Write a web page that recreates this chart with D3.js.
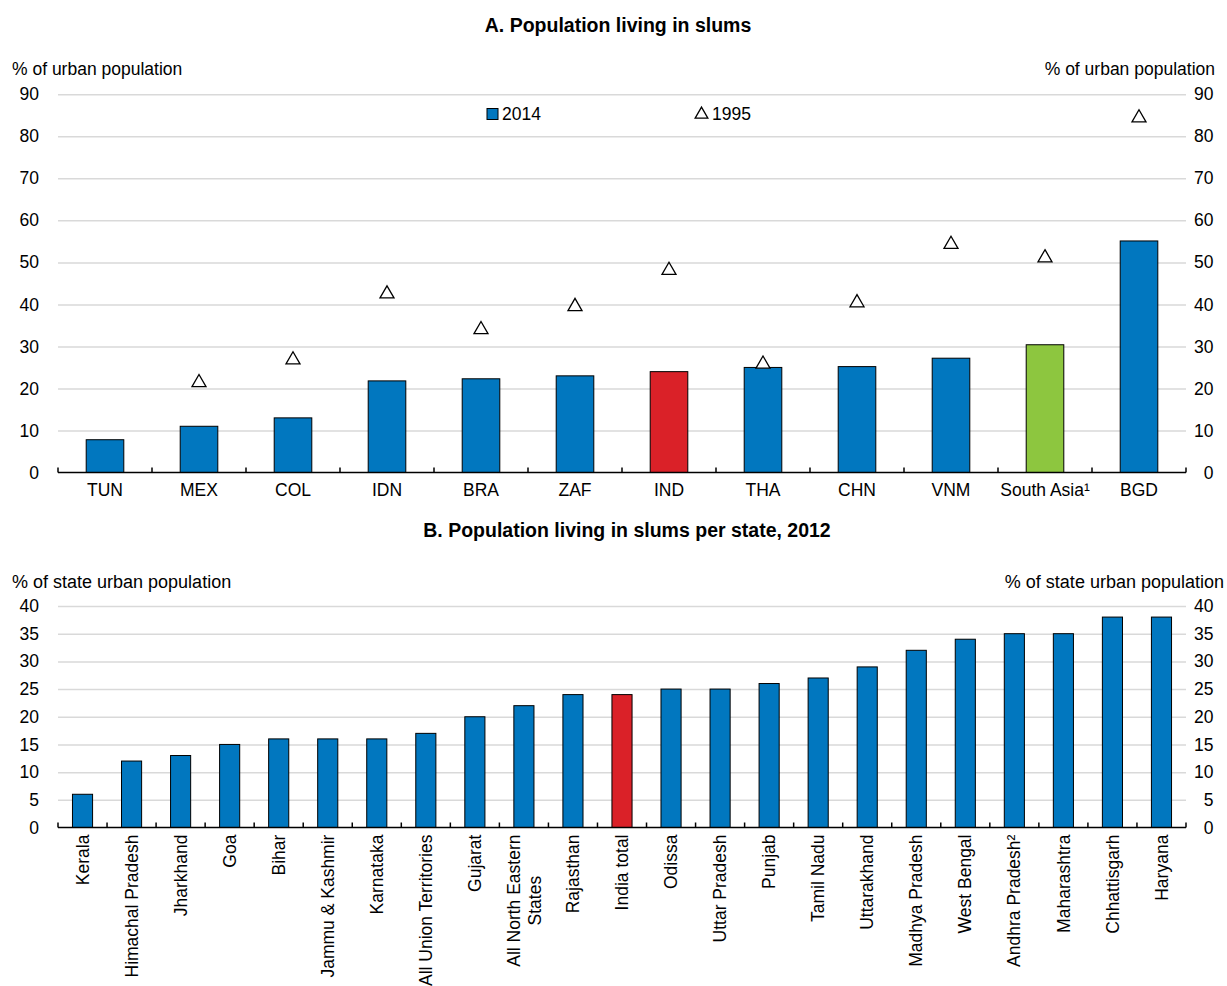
<!DOCTYPE html>
<html><head><meta charset="utf-8">
<script src="https://cdn.jsdelivr.net/npm/d3@7"></script>
<style>
html,body{margin:0;padding:0;background:#fff;}
text{font-family:"Liberation Sans",Arial,sans-serif;fill:#000;}
</style></head>
<body>
<svg id="chart" width="1227" height="986"></svg>
<script>
// ---------- Data ----------
const countries = ["TUN","MEX","COL","IDN","BRA","ZAF","IND","THA","CHN","VNM","South Asia¹","BGD"];
const slums2014 = [7.8, 11.0, 13.0, 21.8, 22.3, 23.0, 24.0, 25.0, 25.2, 27.2, 30.4, 55.1];
const slums1995 = [null, 21.4, 26.8, 42.5, 34.0, 39.5, 48.1, 25.8, 40.4, 54.3, 51.1, 84.4];
const ticksA = [0,10,20,30,40,50,60,70,80,90];

const states = ["Kerala","Himachal Pradesh","Jharkhand","Goa","Bihar","Jammu & Kashmir","Karnataka",
  "All Union Territories","Gujarat","All North Eastern\nStates","Rajasthan","India total","Odissa",
  "Uttar Pradesh","Punjab","Tamil Nadu","Uttarakhand","Madhya Pradesh","West Bengal","Andhra Pradesh²",
  "Maharashtra","Chhattisgarh","Haryana"];
const slumsState = [6,12,13,15,16,16,16,17,20,22,24,24,25,25,26,27,29,32,34,35,35,38,38];
const ticksB = [0,5,10,15,20,25,30,35,40];

const BLUE = "#0177bf", RED = "#da2128", GREEN = "#8dc63f";
const colorA = c => c === "IND" ? RED : (c === "South Asia¹" ? GREEN : BLUE);
const colorB = s => s === "India total" ? RED : BLUE;

const FONT = "Liberation Sans, Arial, sans-serif";
const FS = 17.5;

const svg = d3.select("#chart");
const X0 = 58, X1 = 1186;

function yAxes(g, y, ticks) {
  g.append("g").attr("transform", `translate(${X0},0)`)
    .call(d3.axisLeft(y).tickValues(ticks.filter(t => t !== 0)).tickSize(-(X1 - X0)).tickFormat(""))
    .call(s => s.select(".domain").remove())
    .call(s => s.selectAll("line").attr("stroke", "#d9d9d9").attr("stroke-width", 1.5));
  [X0, 1232.5].forEach(tx => {
    g.append("g").attr("transform", `translate(${tx},0)`)
      .call(d3.axisLeft(y).tickValues(ticks).tickSize(0).tickPadding(19))
      .call(s => s.select(".domain").remove())
      .call(s => s.selectAll("text").style("font-size", FS + "px").style("font-family", FONT).attr("fill", "#000"));
  });
}

function baseAxis(g, x, y0) {
  const n = x.domain().length;
  const bounds = d3.range(n + 1).map(i => x.range()[0] + i * x.step());
  g.append("line").attr("x1", X0).attr("x2", X1).attr("y1", y0).attr("y2", y0)
    .attr("stroke", "#000").attr("stroke-width", 1.5);
  g.selectAll(".btick").data(bounds).join("line").attr("class", "btick")
    .attr("x1", d => d).attr("x2", d => d).attr("y1", y0).attr("y2", y0 - 5)
    .attr("stroke", "#000").attr("stroke-width", 1.5);
}

// ---------- Panel A ----------
const gA = svg.append("g");
const xA = d3.scaleBand().domain(countries).range([X0, X1]).padding(0);
const yA = d3.scaleLinear().domain([0, 90]).range([472.5, 94.3]);
const bwA = xA.bandwidth() * 0.4;

gA.append("text").attr("x", 618).attr("y", 32).attr("text-anchor", "middle")
  .style("font-size", "19.5px").style("font-weight", "bold").text("A. Population living in slums");
gA.append("text").attr("x", 12).attr("y", 75).style("font-size", FS + "px").text("% of urban population");
gA.append("text").attr("x", 1215).attr("y", 75).attr("text-anchor", "end").style("font-size", FS + "px").text("% of urban population");

yAxes(gA, yA, ticksA);

gA.selectAll(".barA").data(countries).join("rect").attr("class", "barA")
  .attr("x", d => xA(d) + (xA.bandwidth() - bwA) / 2)
  .attr("width", bwA)
  .attr("y", (d, i) => yA(slums2014[i]))
  .attr("height", (d, i) => yA(0) - yA(slums2014[i]))
  .attr("fill", d => colorA(d)).attr("stroke", "#000").attr("stroke-width", 1);

baseAxis(gA, xA, yA(0));

gA.append("g").attr("transform", `translate(0,${yA(0)})`)
  .call(d3.axisBottom(xA).tickSize(0).tickPadding(11))
  .call(s => s.select(".domain").remove())
  .call(s => s.selectAll("text").style("font-size", FS + "px").style("font-family", FONT).attr("fill", "#000"));

const tri = d3.symbol().type(d3.symbolTriangle).size(85);
gA.selectAll(".triA").data(countries.map((c, i) => ({c, v: slums1995[i]})).filter(d => d.v != null))
  .join("path").attr("class", "triA")
  .attr("transform", d => `translate(${xA(d.c) + xA.bandwidth() / 2},${yA(d.v)})`)
  .attr("d", tri).attr("fill", "#fff").attr("stroke", "#000").attr("stroke-width", 1.3);

// legend
const lg = gA.append("g");
lg.append("rect").attr("x", 487).attr("y", 108.5).attr("width", 11).attr("height", 11)
  .attr("fill", BLUE).attr("stroke", "#000").attr("stroke-width", 1);
lg.append("text").attr("x", 502).attr("y", 120).style("font-size", FS + "px").text("2014");
lg.append("path").attr("transform", "translate(701.5,114.5)").attr("d", d3.symbol().type(d3.symbolTriangle).size(70))
  .attr("fill", "#fff").attr("stroke", "#000").attr("stroke-width", 1.3);
lg.append("text").attr("x", 712).attr("y", 120).style("font-size", FS + "px").text("1995");

// ---------- Panel B ----------
const gB = svg.append("g");
const xB = d3.scaleBand().domain(states).range([X0, X1]).padding(0);
const yB = d3.scaleLinear().domain([0, 40]).range([827.5, 606]);
const bwB = xB.bandwidth() * 0.41;

gB.append("text").attr("x", 627).attr("y", 537).attr("text-anchor", "middle")
  .style("font-size", "19.5px").style("font-weight", "bold").text("B. Population living in slums per state, 2012");
gB.append("text").attr("x", 12).attr("y", 587.5).style("font-size", "18px").text("% of state urban population");
gB.append("text").attr("x", 1224).attr("y", 587.5).attr("text-anchor", "end").style("font-size", "18px").text("% of state urban population");

yAxes(gB, yB, ticksB);

gB.selectAll(".barB").data(states).join("rect").attr("class", "barB")
  .attr("x", d => xB(d) + (xB.bandwidth() - bwB) / 2)
  .attr("width", bwB)
  .attr("y", (d, i) => yB(slumsState[i]))
  .attr("height", (d, i) => yB(0) - yB(slumsState[i]))
  .attr("fill", d => colorB(d)).attr("stroke", "#000").attr("stroke-width", 1);

baseAxis(gB, xB, yB(0));

const lblB = gB.selectAll(".lblB").data(states).join("text").attr("class", "lblB")
  .attr("text-anchor", "middle")
  .style("font-size", FS + "px");
lblB.each(function(d) {
  const t = d3.select(this);
  const lines = d.split("\n");
  const cx = xB(d) + xB.bandwidth() / 2;
  const top = yB(0) + 7;
  t.attr("transform", `translate(${cx},${top}) rotate(-90)`);
  lines.forEach((ln, i) => {
    t.append("tspan").attr("x", 0).attr("y", (i - (lines.length - 1) / 2) * 1.2 + "em")
      .attr("dy", "0.35em").text(ln);
  });
  const w = this.getBBox().width;
  t.selectAll("tspan").attr("x", -w / 2);
});
</script>
</body></html>
